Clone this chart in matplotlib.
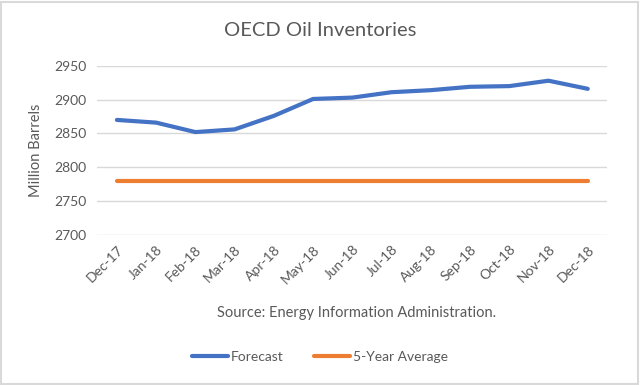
import matplotlib
matplotlib.use("Agg")
import matplotlib.pyplot as plt
from matplotlib.patches import Rectangle

plt.rcParams['font.family'] = ['Lato', 'DejaVu Sans']

# datos
months = ["Dec-17", "Jan-18", "Feb-18", "Mar-18", "Apr-18", "May-18", "Jun-18",
          "Jul-18", "Aug-18", "Sep-18", "Oct-18", "Nov-18", "Dec-18"]
forecast = [2870, 2866, 2852, 2856, 2876, 2901, 2903, 2911, 2914, 2919, 2920, 2928, 2916]
avg_5y = [2780] * len(months)
yticks = [2700, 2750, 2800, 2850, 2900, 2950]

grey = "#595959"

fig = plt.figure(figsize=(6.4, 3.85), dpi=100)
fig.patches.append(Rectangle((0.002, 0.003), 0.995, 0.993, transform=fig.transFigure,
                             fill=False, edgecolor="#D9D9D9", linewidth=1.5))
ax = fig.add_axes([0.152, 0.39, 0.797, 0.439])

x = range(len(months))
l1, = ax.plot(x, forecast, color="#4472C4", linewidth=3, label="Forecast",
              solid_capstyle="round")
l2, = ax.plot(x, avg_5y, color="#ED7D31", linewidth=3, label="5-Year Average",
              solid_capstyle="round")

ax.set_xlim(-0.5, len(months) - 0.5)
ax.set_ylim(2700, 2950)
ax.set_yticks(yticks)
ax.set_xticks(list(x))
ax.set_xticklabels(months, rotation=45, ha="right", rotation_mode="anchor")
ax.tick_params(axis="both", length=0, colors=grey, labelsize=10)
ax.tick_params(axis="x", pad=6)
ax.tick_params(axis="y", pad=8)
ax.grid(axis="y", color="#D9D9D9", linewidth=1)
ax.set_axisbelow(True)
for s in ax.spines.values():
    s.set_visible(False)

ax.set_ylabel("Million Barrels", color=grey, fontsize=10.5, labelpad=8)
fig.text(0.5, 0.92, "OECD Oil Inventories", ha="center", va="center",
         fontsize=14.5, color=grey)
fig.text(0.557, 0.187, "Source: Energy Information Administration.", ha="center",
         va="center", fontsize=10.5, color=grey)

leg = fig.legend(handles=[l1, l2], loc="center", bbox_to_anchor=(0.5, 0.073),
                 ncol=2, frameon=False, fontsize=10, handlelength=2.6,
                 columnspacing=2.2, handletextpad=0.2)
for t in leg.get_texts():
    t.set_color(grey)

fig.savefig("out.png", dpi=100)
